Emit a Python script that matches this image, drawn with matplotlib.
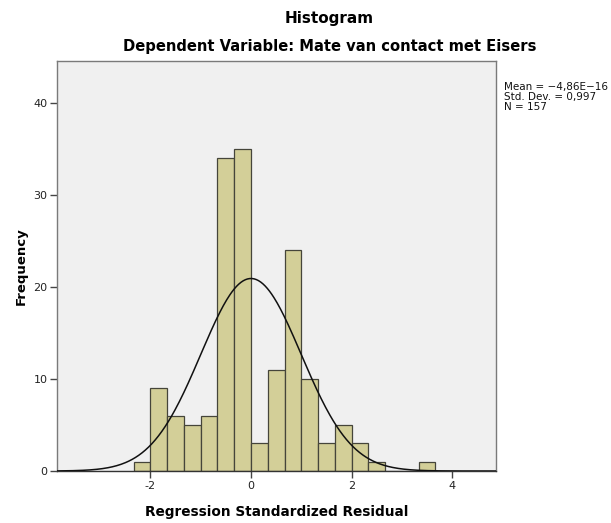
import numpy as np
import matplotlib
matplotlib.use("Agg")
import matplotlib.pyplot as plt

# Residual histogram: bin edges (width 1/3) and counts per bin
bin_edges = np.arange(-7, 12) / 3.0
counts = [1, 9, 6, 5, 6, 34, 35, 3, 11, 24, 10, 3, 5, 3, 1, 0, 0, 1]

res_mean = -4.86e-16
res_std = 0.997
n_obs = 157

x_ticks = [-2, 0, 2, 4]
y_ticks = [0, 10, 20, 30, 40]

bar_face = "#d3cf98"
bar_edge = "#45453a"
panel_bg = "#f0f0f0"

fig = plt.figure(figsize=(6.11, 5.23), dpi=100)
ax = fig.add_axes([0.0938, 0.0994, 0.718, 0.784])
ax.set_facecolor(panel_bg)

widths = np.diff(bin_edges)
ax.bar(bin_edges[:-1], counts, width=widths, align="edge",
       color=bar_face, edgecolor=bar_edge, linewidth=0.9, zorder=2)

# Fitted normal curve scaled to counts
xs = np.linspace(-3.85, 4.87, 400)
bw = widths[0]
pdf = np.exp(-0.5 * ((xs - res_mean) / res_std) ** 2) / (res_std * np.sqrt(2 * np.pi))
ax.plot(xs, n_obs * bw * pdf, color="#111111", linewidth=1.1, zorder=3)

ax.set_xlim(-3.85, 4.87)
ax.set_ylim(0, 44.6)
ax.set_xticks(x_ticks)
ax.set_yticks(y_ticks)
ax.set_xticklabels([str(t) for t in x_ticks])
ax.tick_params(axis="both", direction="out", length=5, width=1.0, colors="#444444",
               labelsize=8, labelcolor="#222222", pad=2)
for s in ax.spines.values():
    s.set_color("#7a7a7a")
    s.set_linewidth(1.0)
ax.spines["bottom"].set_color("#333333")

ax.set_xlabel("Regression Standardized Residual", fontsize=9.8, fontweight="bold", labelpad=10)
ax.set_ylabel("Frequency", fontsize=9.5, fontweight="bold", labelpad=4)

fig.text(329 / 611, 1 - 18 / 523, "Histogram", ha="center", va="center",
         fontsize=11, fontweight="bold")
fig.text(330 / 611, 1 - 47 / 523, "Dependent Variable: Mate van contact met Eisers",
         ha="center", va="center", fontsize=10.6, fontweight="bold")

stats = (f"Mean = \u22124,86E\u221216\n"
         f"Std. Dev. = {res_std:.3f}".replace("0.", "0,") +
         f"\nN = {n_obs}")
fig.text(504 / 611, 1 - 82 / 523, stats,
         ha="left", va="top", fontsize=7.5, linespacing=1.0, color="#111111")

fig.savefig("out.png", dpi=100, facecolor="white")
